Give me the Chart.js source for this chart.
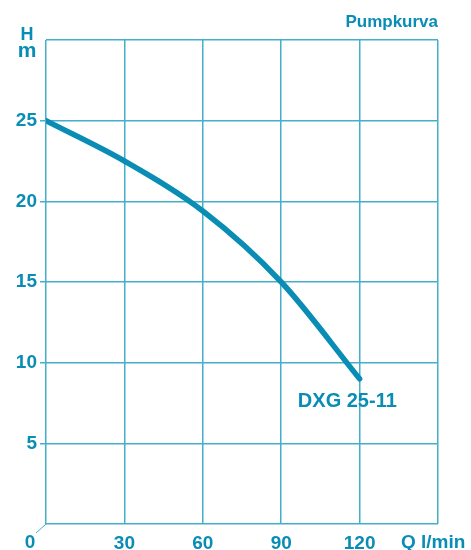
<!DOCTYPE html>
<html>
<head>
<meta charset="utf-8">
<script src="https://cdn.jsdelivr.net/npm/chart.js@4"></script>
<style>
  body { margin: 0; background: #fff; }
  canvas { display: block; }
</style>
</head>
<body>
<canvas id="pumpChart" width="471" height="550"></canvas>
<script>
// flow Q (l/min) and head H (m)
const flow = [0, 30, 60, 90, 120];
const head = [25, 22.5, 19.4, 15, 9];
const xTicks = [0, 30, 60, 90, 120, 150];
const yTicks = [0, 5, 10, 15, 20, 25, 30];
const pumpName = 'DXG 25-11';

const ink = '#0a8db5';
const gridInk = '#45aecb';
const boldFont = { family: 'Liberation Sans', weight: 'bold', size: 19 };

// extra texts: axis units, title, origin label, curve name
const textPlugin = {
  id: 'texts',
  afterDraw(chart) {
    const ctx = chart.ctx;
    const x = chart.scales.x, y = chart.scales.y;
    ctx.save();
    ctx.fillStyle = ink;
    ctx.textAlign = 'center';
    ctx.textBaseline = 'alphabetic';
    ctx.font = 'bold 18px "Liberation Sans"';
    ctx.fillText('H', 27, 40);
    ctx.font = 'bold 21px "Liberation Sans"';
    ctx.fillText('m', 27, 57);

    ctx.font = 'bold 17px "Liberation Sans"';
    ctx.textAlign = 'right';
    ctx.fillText('Pumpkurva', x.right, 27);

    ctx.textBaseline = 'middle';
    ctx.font = 'bold 19px "Liberation Sans"';
    ctx.textAlign = 'center';
    ctx.fillText('0', x.left - 16, 543);
    ctx.textAlign = 'left';
    ctx.fillText('Q l/min', 401, 543);

    ctx.textAlign = 'center';
    ctx.font = 'bold 20px "Liberation Sans"';
    ctx.fillText(pumpName, x.getPixelForValue(115.3), y.getPixelForValue(7.6));

    // little diagonal tick at origin
    ctx.strokeStyle = gridInk;
    ctx.lineWidth = 1;
    ctx.beginPath();
    ctx.moveTo(x.left, y.bottom);
    ctx.lineTo(x.left - 10, y.bottom + 9);
    ctx.stroke();
    ctx.restore();
  }
};

new Chart(document.getElementById('pumpChart'), {
  type: 'line',
  data: {
    datasets: [{
      data: flow.map((q, i) => ({ x: q, y: head[i] })),
      borderColor: ink,
      borderWidth: 5.5,
      pointRadius: 0,
      cubicInterpolationMode: 'monotone',
      borderCapStyle: 'round'
    }]
  },
  options: {
    responsive: false,
    animation: false,
    layout: { padding: { top: 40, right: 33, left: 0, bottom: 0 } },
    plugins: { legend: { display: false }, tooltip: { enabled: false } },
    scales: {
      x: {
        type: 'linear',
        min: 0, max: 150,
        afterBuildTicks: s => { s.ticks = xTicks.map(v => ({ value: v })); },
        afterFit: s => { s.height = 26; },
        border: { display: false },
        grid: { color: gridInk, lineWidth: 1.5, drawTicks: false },
        ticks: {
          color: ink, font: boldFont, padding: 8, maxRotation: 0,
          callback: v => (v === 0 || v === 150) ? '' : v
        }
      },
      y: {
        min: 0, max: 30,
        afterBuildTicks: s => { s.ticks = yTicks.map(v => ({ value: v })); },
        afterFit: s => { s.width = 46; },
        border: { display: false },
        grid: {
          color: gridInk, lineWidth: 1.5, tickLength: 6,
          tickColor: c => (c.tick && (c.tick.value === 0 || c.tick.value === 30)) ? 'rgba(0,0,0,0)' : gridInk
        },
        ticks: {
          color: ink, font: boldFont, padding: 3,
          callback: v => (v === 0 || v === 30) ? '' : v
        }
      }
    }
  },
  plugins: [textPlugin]
});
</script>
</body>
</html>
